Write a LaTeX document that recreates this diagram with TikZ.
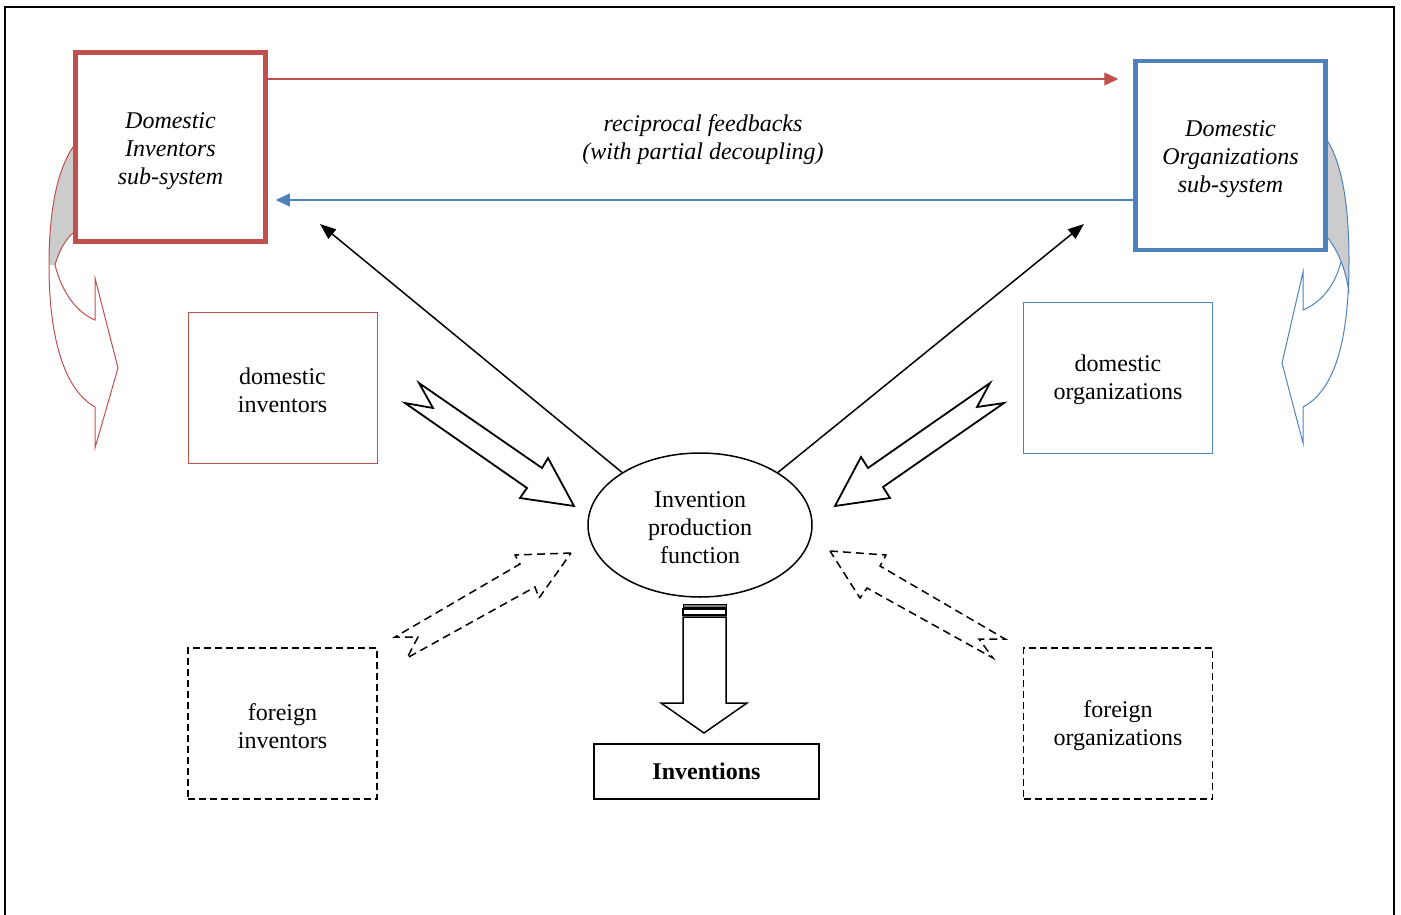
\documentclass[tikz,border=0pt]{standalone}
\usepackage{fontspec}
\setmainfont{Liberation Serif}
\usetikzlibrary{shapes.geometric,arrows.meta}
\definecolor{myred}{RGB}{192,80,77}
\definecolor{myblue}{RGB}{79,129,189}
\begin{document}
\begin{tikzpicture}[x=1pt,y=-1pt,
  every node/.style={font=\fontsize{24}{28}\selectfont, align=center, inner sep=0pt},
  bigbox/.style={draw, line width=4.5pt, minimum width=190pt, minimum height=189pt},
  thinbox/.style={draw, line width=1pt, minimum width=189pt, minimum height=151pt},
  dashbox/.style={draw=black, line width=1.5pt, dash pattern=on 7pt off 4pt, minimum width=189pt, minimum height=151pt},
  itext/.style={font=\fontsize{24}{28}\selectfont\itshape},
  blockarrow/.style={draw, line width=1.8pt, fill=white, line join=miter},
  dblock/.style={draw, line width=1.5pt, dash pattern=on 8pt off 5pt},
  curvred/.style={draw=myred, line width=1pt},
  curvblue/.style={draw=myblue, line width=1pt},
  backside/.style={fill=gray!40},
  conn/.style={line width=1.5pt, -{Triangle[length=16pt,width=12pt]}}
]
\useasboundingbox (0,0) rectangle (1401,914);
\clip (0,0) rectangle (1401,914);
\draw[line width=2pt] (5,920) -- (5,7) -- (1394,7) -- (1394,920);

% curved arrows (left, red)
\fill[backside] (73,147) .. controls (56,172) and (49,215) .. (49,265) -- (55,265) .. controls (59,251) and (65,240) .. (73,233) -- cycle;
\draw[curvred] (73,233) .. controls (65,240) and (59,251) .. (55,265) .. controls (62,292) and (76,312) .. (95,320) -- (95,278) -- (118,368) -- (95,448) -- (95,407) .. controls (65,390) and (49,340) .. (49,265) .. controls (49,215) and (56,172) .. (73,147);

% curved arrows (right, blue)
\fill[backside] (1327,140) .. controls (1343,165) and (1349,210) .. (1349,260) -- (1349,293) .. controls (1346,270) and (1338,250) .. (1327,237) -- cycle;
\draw[curvblue] (1327,237) .. controls (1338,250) and (1346,270) .. (1349,293);
\draw[curvblue] (1341,262) .. controls (1335,285) and (1322,302) .. (1303,310) -- (1303,272) -- (1282,363) -- (1303,443) -- (1303,407) .. controls (1335,390) and (1349,340) .. (1349,260) .. controls (1349,210) and (1343,165) .. (1327,140);

% boxes
\node[bigbox, draw=myred] (DI) at (170.5,147) {};
\node[bigbox, draw=myblue] (DO) at (1230.5,155.5) {};
\node[thinbox, draw=myred] (di) at (282.5,387.5) {};
\node[thinbox, draw=myblue] (do) at (1118,377.5) {};
\node[dashbox] (fi) at (282.5,723.5) {};
\node[dashbox] (fo) at (1118,723.5) {};
\node[draw, ellipse, line width=1.5pt, minimum width=224pt, minimum height=144pt] (IPF) at (700,525) {};
\node[draw, line width=2pt, minimum width=225pt, minimum height=55pt, font=\fontsize{24}{28}\selectfont\bfseries] (INV) at (706.5,771.5) {Inventions};

% texts
\node[itext] (DIt) at ([yshift=-4pt]DI.center) {Domestic\\Inventors\\sub-system};
\node[itext] (DOt) at ([yshift=-4pt]DO.center) {Domestic\\Organizations\\sub-system};
\node (dit) at ([yshift=-2.5pt]di.center) {domestic\\inventors};
\node (dot) at ([yshift=-2.5pt]do.center) {domestic\\organizations};
\node (fit) at ([yshift=-2.5pt]fi.center) {foreign\\inventors};
\node (fot) at ([yshift=-2.5pt]fo.center) {foreign\\organizations};
\node (IPFt) at ([yshift=-3pt]IPF.center) {Invention\\production\\function};
\node[itext] (fb) at (703,140) {reciprocal feedbacks\\(with partial decoupling)};

% feedback arrows
\coordinate (y79) at (0,79);
\coordinate (y200) at (0,200);
\coordinate (rt) at ([xshift=-15pt]DO.west);
\coordinate (lt) at ([xshift=8pt]DI.east);
\draw[myred, line width=1.3pt, -{Triangle[length=14pt,width=13pt]}] (DI.east |- y79) -- (rt |- y79);
\draw[myblue, line width=1.3pt, -{Triangle[length=14pt,width=13pt]}] (DO.west |- y200) -- (lt |- y200);

% black connectors
\coordinate (p1) at (320,224);
\coordinate (p2) at (1084,224);
\draw[conn] (IPF.146) -- (p1);
\draw[conn] (IPF.34) -- (p2);

% block arrows
\draw[blockarrow] (419,383) -- (542,468) -- (548,458) -- (574,506) -- (520,498) -- (527,488) -- (405,403) -- (433,408) -- cycle;
\draw[blockarrow] (990,383) -- (977,407) -- (1004,403) -- (883,487) -- (890,498) -- (835,506) -- (861,457) -- (868,468) -- cycle;
\draw[dblock] (571,553) -- (515,555) -- (520,564) -- (395,637) -- (418,637) -- (407,658) -- (535,587) -- (539,598) -- cycle;
\draw[dblock] (830,551) -- (886,555) -- (880,566) -- (1005,639) -- (979,639) -- (993,658) -- (867,588) -- (860,598) -- cycle;

% down arrow
\filldraw[fill=gray, draw=black, line width=0.8pt] (683,604) rectangle (726,607);
\draw[line width=1.2pt] (683,609) rectangle (726,615);
\draw[line width=1.5pt, fill=white, line join=miter] (683,617) -- (683,703) -- (661,703) -- (704,733) -- (747,703) -- (726,703) -- (726,617) -- cycle;
\end{tikzpicture}
\end{document}
